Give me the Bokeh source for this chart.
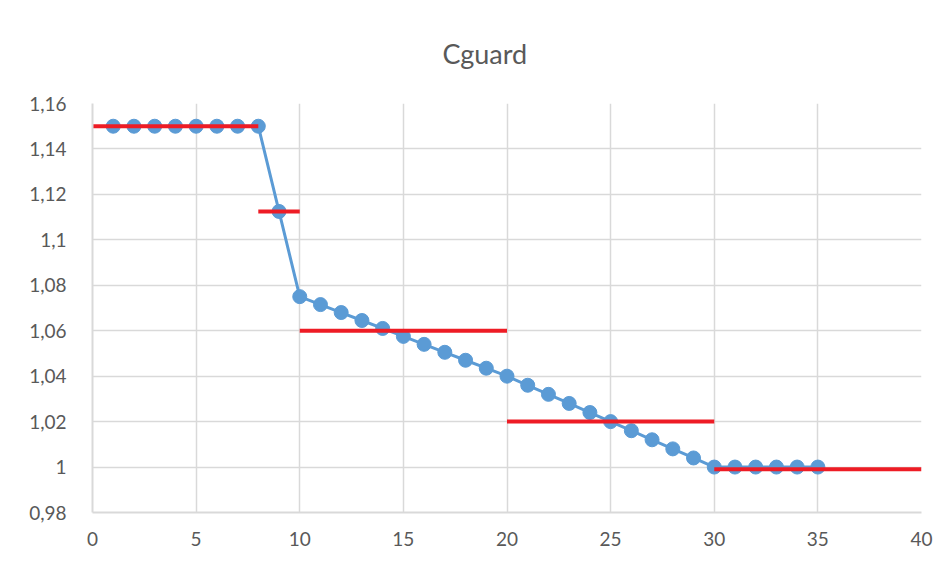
from bokeh.plotting import figure
from bokeh.models import FixedTicker, CustomJSTickFormatter, Range1d, Title
from bokeh.embed import file_html
from bokeh.resources import INLINE

# Data
x_vals = list(range(1, 36))
cguard = [1.15, 1.15, 1.15, 1.15, 1.15, 1.15, 1.15, 1.15,
          1.1125, 1.075, 1.0715, 1.068, 1.0645, 1.061, 1.0575, 1.054,
          1.0505, 1.047, 1.0435, 1.04, 1.036, 1.032, 1.028, 1.024,
          1.02, 1.016, 1.012, 1.008, 1.004, 1.0, 1.0, 1.0, 1.0, 1.0, 1.0]
step_x0 = [0, 8, 10, 20, 30]
step_x1 = [8, 10, 20, 30, 40]
step_y = [1.15, 1.1125, 1.06, 1.02, 0.999]
x_ticks = [0, 5, 10, 15, 20, 25, 30, 35, 40]
y_ticks = [0.98, 1.0, 1.02, 1.04, 1.06, 1.08, 1.1, 1.12, 1.14, 1.16]

FONT = "Lato"
GRAY = "#595959"
GRID = "#d9d9d9"

p = figure(width=951, height=572, output_backend="svg", toolbar_location=None,
           x_range=Range1d(0, 40), y_range=Range1d(0.98, 1.16),
           min_border_left=92, min_border_right=30, min_border_top=103,
           min_border_bottom=60)
p.outline_line_color = None
p.background_fill_color = "white"
p.border_fill_color = "white"

title = Title(text="Cguard", align="left", offset=350, text_font=FONT,
              text_font_size="27px", text_color=GRAY,
              text_font_style="normal", standoff=67)
p.add_layout(title, "above")

p.xaxis.ticker = FixedTicker(ticks=x_ticks)
p.yaxis.ticker = FixedTicker(ticks=y_ticks)
p.yaxis.formatter = CustomJSTickFormatter(code="""
let s = tick.toFixed(2);
s = s.replace(/0+$/, '').replace(/\\.$/, '');
return s.replace('.', ',');
""")
for ax in (p.xaxis, p.yaxis):
    ax.major_tick_line_color = None
    ax.minor_tick_line_color = None
    ax.axis_line_color = GRID
    ax.axis_line_width = 2
    ax.major_label_text_font = FONT
    ax.major_label_text_font_size = "19px"
    ax.major_label_text_color = GRAY
p.xaxis.major_label_standoff = 13
p.yaxis.major_label_standoff = 20

p.xgrid.grid_line_color = GRID
p.ygrid.grid_line_color = GRID
p.xgrid.grid_line_width = 1.5
p.ygrid.grid_line_width = 1.5

p.line(x_vals, cguard, line_color="#5B9BD5", line_width=3)
p.scatter(x_vals, cguard, size=14, fill_color="#5B9BD5", line_color="#5B9BD5")
p.segment(x0=step_x0, y0=step_y, x1=step_x1, y1=step_y,
          line_color="#EE1C25", line_width=4)

open("out.html", "w").write(file_html(p, INLINE))
